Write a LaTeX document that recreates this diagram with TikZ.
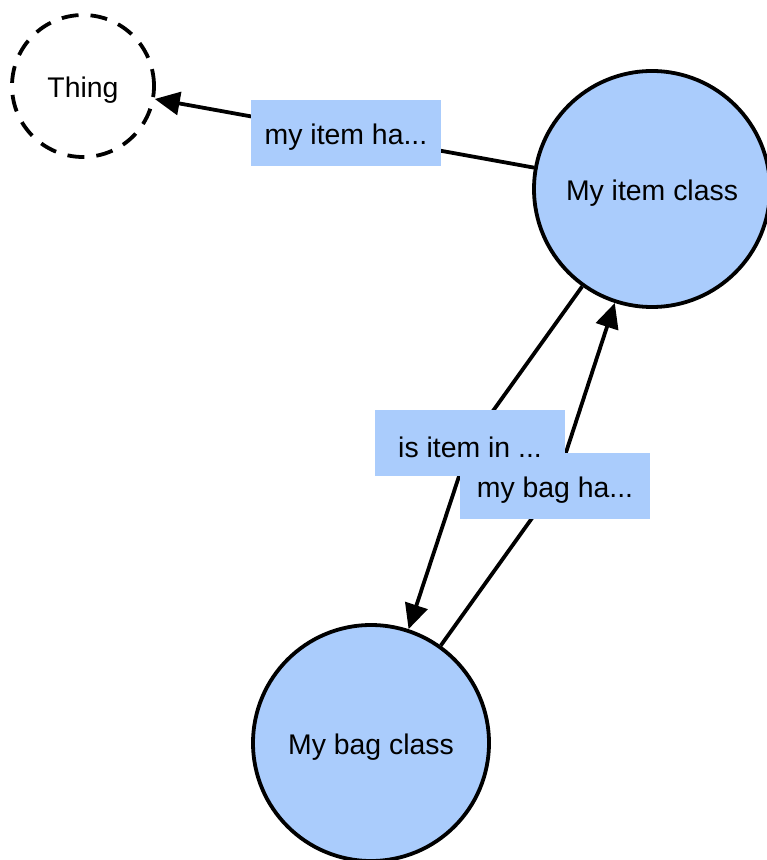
\documentclass[tikz,border=0pt]{standalone}
\usepackage{fontspec}
\setmainfont{Liberation Sans}
\usetikzlibrary{arrows.meta}
\definecolor{classfill}{RGB}{170,204,252}
% drop a caption slightly below the geometric centre while keeping its box size
\newcommand\dropped[1]{\raisebox{-2pt}[\height][\depth]{#1}}
\tikzset{
  classnode/.style={circle, draw=black, line width=1.9pt, fill=classfill,
    minimum size=118pt, inner sep=0pt, font=\fontsize{14.2}{17}\selectfont},
  thingnode/.style={circle, draw=black, line width=1.9pt, dash pattern=on 8.5pt off 6pt,
    minimum size=71pt, inner sep=0pt, font=\fontsize{14.2}{17}\selectfont},
  edgelabel/.style={fill=classfill, minimum width=95pt, minimum height=33pt,
    inner sep=0pt, font=\fontsize{14.2}{17}\selectfont},
  relation/.style={line width=1.9pt, -{Triangle[length=12.5pt, width=11.5pt]}}
}
\begin{document}
\begin{tikzpicture}[x=0.5pt, y=-0.5pt]
  \useasboundingbox (0,0) rectangle (766,860);
  % class nodes
  \node[thingnode] (thing) at (83,86) {\dropped{Thing}};
  \node[classnode] (item) at (652,189) {\dropped{My item class}};
  \node[classnode] (bag) at (371,743) {\dropped{My bag class}};
  % label anchors
  \coordinate (l1c) at (346,133);
  \coordinate (l2c) at (470,443);
  \coordinate (l3c) at (555,486);
  % relations
  \draw[relation] (item) -- (thing);
  \draw[relation] (item) -- (l2c) -- (bag);
  \draw[relation] (bag) -- (l3c) -- (item);
  % relation labels (the upper one is laid over the lower one)
  \node[edgelabel] (l1) at (l1c) {\dropped{my item ha...}};
  \node[edgelabel] (l3) at (l3c) {\dropped{my bag ha...}};
  \node[edgelabel] (l2) at (l2c) {\dropped{is item in ...}};
\end{tikzpicture}
\end{document}
